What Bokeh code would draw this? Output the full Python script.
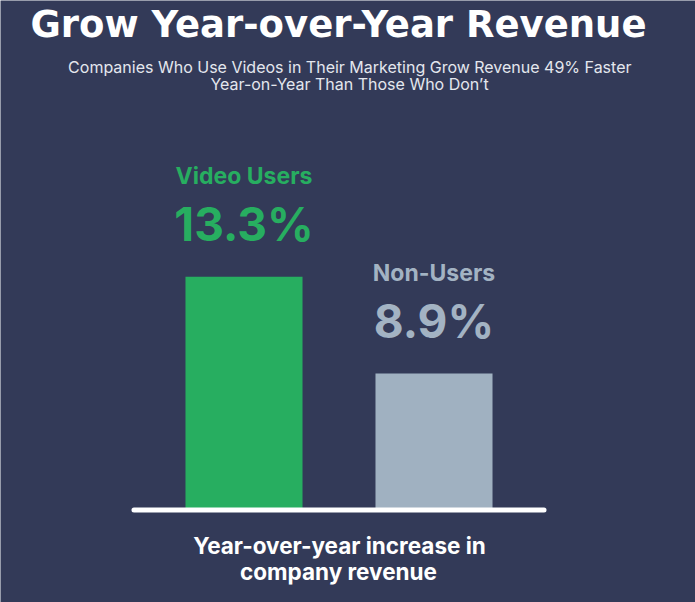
from bokeh.plotting import figure
from bokeh.models import Range1d, Label, ColumnDataSource
from bokeh.core.properties import value
from bokeh.embed import file_html
from bokeh.resources import INLINE

# ---- data ----
categories = ["Video Users", "Non-Users"]
values = [13.3, 8.9]
value_labels = ["13.3%", "8.9%"]
bar_colors = ["#27ae60", "#a0b1c1"]
label_colors = ["#27ae60", "#a3b3c3"]
axis_start = 2.7  # visual baseline of the (truncated) bar scale

title_text = "Grow Year-over-Year Revenue"
subtitle_lines = ["Companies Who Use Videos in Their Marketing Grow Revenue 49% Faster",
                  "Year-on-Year Than Those Who Don\u2019t"]
caption_lines = ["Year-over-year increase in", "company revenue"]

BG = "#333a58"
FONT = "Inter"
TITLE_FONT = "DejaVu Sans"
W, H = 695, 602

xs = list(range(len(categories)))
src = ColumnDataSource(dict(x=xs, top=values, cat=categories, lab=value_labels,
                            color=bar_colors, tcolor=label_colors,
                            bottom=[axis_start] * len(values)))

p = figure(width=W, height=H, output_backend="svg", toolbar_location=None,
           x_range=Range1d(-1.2816, 2.3763), y_range=Range1d(-1.5045, 25.859),
           min_border=0)
p.axis.visible = False
p.grid.visible = False
p.outline_line_color = None
p.background_fill_color = BG
p.border_fill_color = BG

p.vbar(x="x", top="top", bottom="bottom", width=0.616, color="color", line_color=None, source=src)
p.segment(x0=[xs[0] - 0.579], x1=[xs[-1] + 0.579], y0=[axis_start], y1=[axis_start],
          line_color="white", line_width=5, line_cap="round")

p.text(x="x", y="top", text="lab", text_color="tcolor", source=src,
       text_font=value(FONT), text_font_style="bold", text_font_size="46px",
       text_align="center", text_baseline="alphabetic", y_offset=-53)
p.text(x="x", y="top", text="cat", text_color="tcolor", source=src,
       text_font=value(FONT), text_font_style="bold", text_font_size="23px",
       text_align="center", text_baseline="alphabetic", y_offset=-101)

def lab(text, x, y, size, bold, color="white", font=FONT):
    p.add_layout(Label(x=x, y=y, x_units="screen", y_units="screen", text=text,
                       text_font=font, text_font_size=size,
                       text_font_style="bold" if bold else "normal",
                       text_color=color, text_align="center", text_baseline="alphabetic"))

lab(title_text, 338, 578, "37px", True, font=TITLE_FONT)
lab(subtitle_lines[0], 349.3, 535.4, "16px", False, "#e4e7ee")
lab(subtitle_lines[1], 349, 518.4, "16px", False, "#e4e7ee")
lab(caption_lines[0], 339, 57.5, "22.5px", True)
lab(caption_lines[1], 338, 30.6, "22.5px", True)

html = file_html(p, INLINE)
html = html.replace("<body>", '<body style="margin:0;background:%s">' % BG, 1)
open("out.html", "w").write(html)
